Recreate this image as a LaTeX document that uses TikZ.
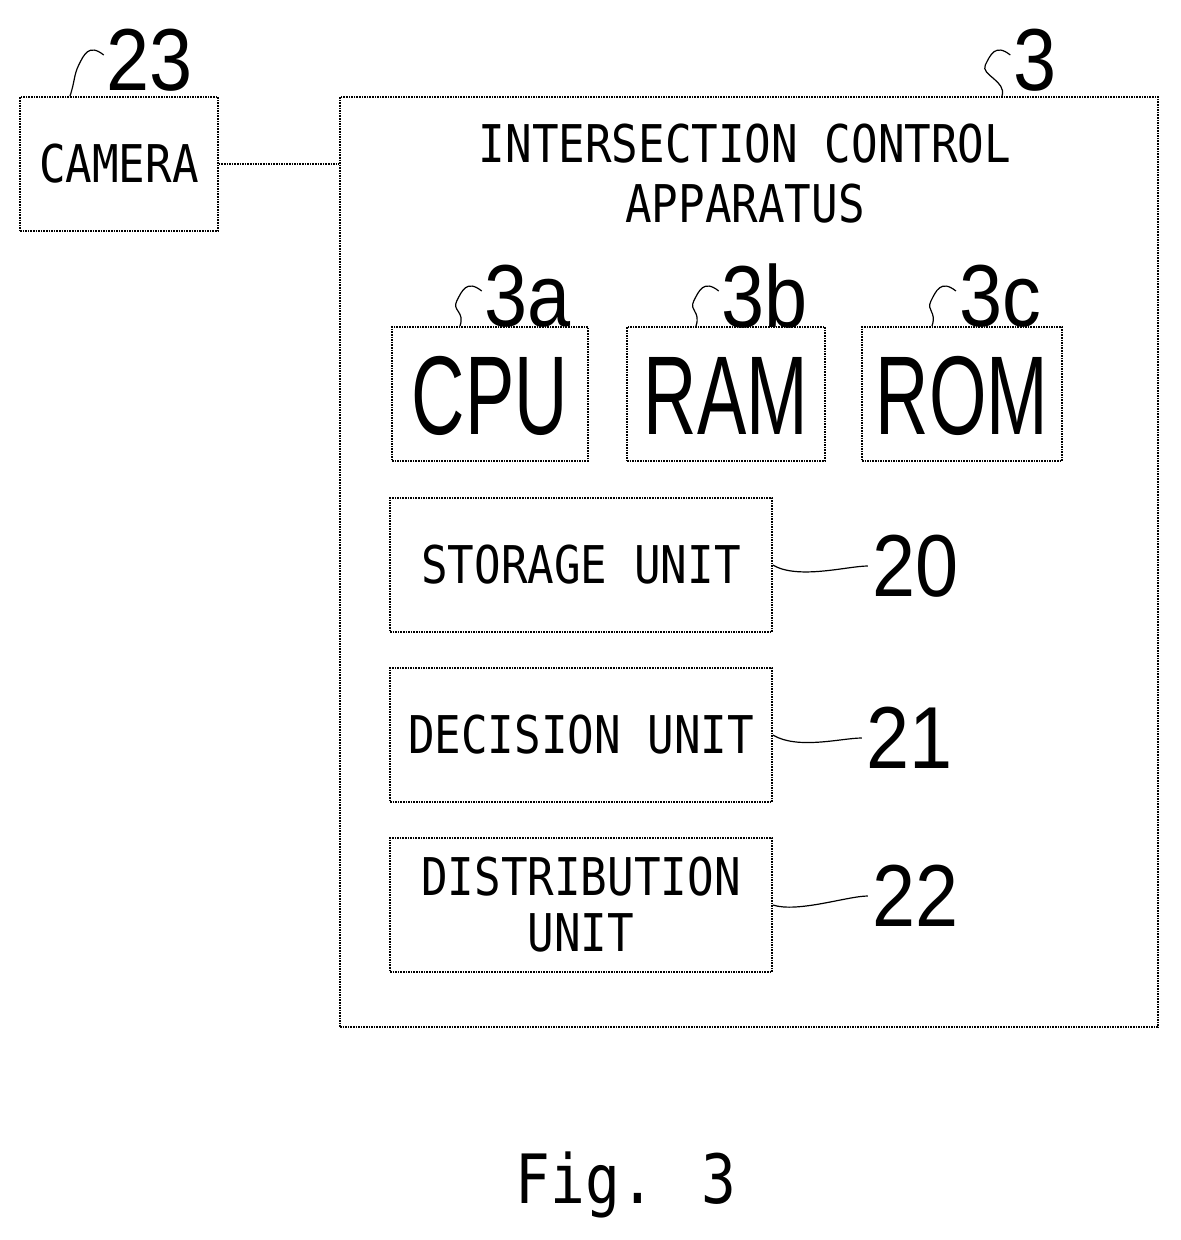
\documentclass[tikz,border=0pt]{standalone}
\usepackage{fontspec}
\setmainfont{DejaVu Sans Mono}
\newfontfamily\lsans{Liberation Sans}
\begin{document}
\begin{tikzpicture}[x=1pt,y=-1pt,
 box/.style={draw,line width=1.6pt,densely dotted,inner sep=0},
 lead/.style={line width=1.2pt},
 fs/.style={font=\fontsize{#1}{#1}\selectfont,xscale=0.85,inner sep=0},
 big/.style={font=\lsans\fontsize{112}{112}\selectfont,xscale=0.66,inner sep=0},
 lbl/.style={font=\lsans\fontsize{88}{88}\selectfont,xscale=0.88,inner sep=0,anchor=center}]
\useasboundingbox (0,0) rectangle (1181,1240);
\node[box,minimum width=198,minimum height=134] (cam) at (119,164) {};
\node[fs=52] (camt) at (cam) {CAMERA};
\node[box,minimum width=818,minimum height=930] (main) at (749,562) {};
\node[fs=52,align=center] (title) at (745,174) {INTERSECTION CONTROL\\[8pt]APPARATUS};
\node[box,minimum width=196,minimum height=134] (cpu) at (490,394) {};
\node[box,minimum width=198,minimum height=134] (ram) at (726,394) {};
\node[box,minimum width=200,minimum height=134] (rom) at (962,394) {};
\node[big] (cput) at (490,396) {CPU};
\node[big] (ramt) at (726,396) {RAM};
\node[big] (romt) at (962,396) {ROM};
\node[box,minimum width=382,minimum height=134] (sto) at (581,565) {};
\node[box,minimum width=382,minimum height=134] (dec) at (581,735) {};
\node[box,minimum width=382,minimum height=134] (dis) at (581,905) {};
\node[fs=52] (stot) at (sto) {STORAGE UNIT};
\node[fs=52] (dect) at (dec) {DECISION UNIT};
\node[fs=52,align=center] (dist) at (dis) {DISTRIBUTION\\[4pt]UNIT};
\draw[box] (cam.east) -- (cam.east -| main.west) coordinate (mw);
% labels
\node[lbl] (l23) at (150,60) {23};
\node[lbl] (l3) at (1035,60) {3};
\node[lbl] (l3a) at (528,296) {3a};
\node[lbl] (l3b) at (765,296) {3b};
\node[lbl] (l3c) at (1000,296) {3c};
\node[lbl] (l20) at (916,566) {20};
\node[lbl] (l21) at (910,738) {21};
\node[lbl] (l22) at (916,896) {22};
\node[fs=68] (fig) at (626,1185) {Fig. 3};
% squiggle leaders
\draw[lead] (l23.west) ++(-3,-5) .. controls +(-15,-12) and +(5,-10) .. ++(-25,10) .. controls +(-5,10) and +(5,-15) .. (70,96);
\draw[lead] (l3.west) ++(-3,-5) .. controls +(-15,-12) and +(5,-10) .. ++(-25,10) .. controls +(-5,10) and +(5,-15) .. (1002,96);
\draw[lead] (l3a.west) ++(-3,-5) .. controls +(-15,-12) and +(5,-10) .. ++(-25,10) .. controls +(-5,10) and +(5,-15) .. (460,326);
\draw[lead] (l3b.west) ++(-3,-5) .. controls +(-15,-12) and +(5,-10) .. ++(-25,10) .. controls +(-5,10) and +(5,-15) .. (696,326);
\draw[lead] (l3c.west) ++(-3,-5) .. controls +(-15,-12) and +(5,-10) .. ++(-25,10) .. controls +(-5,10) and +(5,-15) .. (932,326);
\draw[lead] (sto.east) .. controls +(25,15) and +(-20,0) .. ([xshift=-5]l20.west);
\draw[lead] (dec.east) .. controls +(25,15) and +(-20,0) .. ([xshift=-5]l21.west);
\draw[lead] (dis.east) .. controls +(25,8) and +(-20,0) .. ([xshift=-5]l22.west);
\end{tikzpicture}
\end{document}
